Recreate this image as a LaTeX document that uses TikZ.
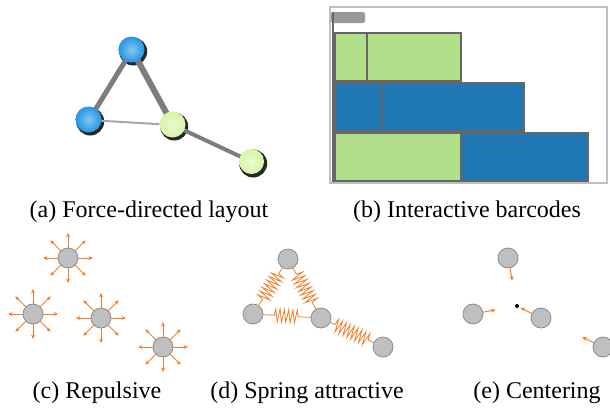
\documentclass[tikz,border=0pt]{standalone}
\usepackage{fontspec}
\setmainfont{Liberation Serif}
\usetikzlibrary{calc,shadings,decorations.pathmorphing,arrows.meta}
\definecolor{ballblue}{RGB}{35,150,225}
\definecolor{ballgreen}{RGB}{215,245,165}
\definecolor{barblue}{RGB}{31,120,180}
\definecolor{bargreen}{RGB}{178,223,138}
\definecolor{force}{RGB}{244,125,40}
\definecolor{edgegrey}{RGB}{125,125,125}
\tikzset{
    % Force-directed balls
    ball/.style={
        circle,
        minimum size=26pt,
        inner sep=0pt,
        shading=radial,
        inner color=#1!55!white,
        outer color=#1,
    },
    shade/.style={
        circle,
        fill=black!85,
        minimum size=28pt,
        inner sep=0pt,
    },
    % Barcode bars
    bar/.style={
        draw=black!60,
        line width=1.4pt,
    },
    % Simple particles
    particle/.style={
        circle,
        draw=black!45,
        fill=black!25,
        line width=0.8pt,
        minimum size=20pt,
        inner sep=0pt,
    },
    forcearrow/.style={
        force,
        line width=1pt,
        -{Stealth[length=4.5pt,width=4pt]},
    },
    spring/.style={
        force,
        line width=0.8pt,
        decorate,
        decoration={zigzag, segment length=4.3pt, amplitude=6.5pt,
            pre length=#1, post length=#1},
    },
    spring/.default=9pt,
    caption/.style={
        font=\fontsize{24}{28}\selectfont,
    },
}

\begin{document}
\begin{tikzpicture}[x=1pt,y=-1pt]
\useasboundingbox (0,0) rectangle (610,413);
%FORCE_BEGIN%
    % (a) Force-directed layout
    \foreach \name/\x/\y in {a1/132/50, a2/89/120, a3/173/125, a4/252/162}
        \node[shade] (\name-s) at (\x+1.2,\y+1.5) {};
    \draw[edgegrey, line width=5pt] (132,50) -- (89,120);
    \draw[edgegrey, line width=6pt] (132,50) -- (173,125);
    \draw[black!35, line width=2pt] (89,120) -- (173,125);
    \draw[edgegrey, line width=4pt] (173,125) -- (252,162);
    \node[ball=ballblue] (a1) at (131.5,49.5) {};
    \node[ball=ballblue] (a2) at (88.5,119.5) {};
    \node[ball=ballgreen] (a3) at (172.5,124.5) {};
    \node[ball=ballgreen, minimum size=25pt] (a4) at (251.5,161.5) {};
    \node[caption] (capA) at (149,212) {(a) Force-directed layout};
%FORCE_END%

%BARCODE_BEGIN%
    % (b) Interactive barcodes
    \draw[black!25, line width=1.6pt] (330,7) rectangle (607,183);
    \fill[black!40, rounded corners=2pt] (331,12) rectangle (365,23);
    \draw[black!60, line width=1.6pt] (333,12) -- (333,182);
    \filldraw[bar, fill=bargreen] (335,33) rectangle (461,81);
    \draw[bar] (367,33) -- (367,81);
    \filldraw[bar, fill=barblue] (335,83) rectangle (524,131);
    \draw[bar] (382,83) -- (382,131);
    \filldraw[bar, fill=bargreen] (335,133) rectangle (461,181);
    \filldraw[bar, fill=barblue] (461,133) rectangle (588,181);
    \node[caption] (capB) at (467,212) {(b) Interactive barcodes};
%BARCODE_END%

%REPULSIVE_BEGIN%
    % (c) Repulsive
    \foreach \name/\x/\y in {c1/68/258, c2/33/314, c3/101/318, c4/163/347}{
        \node[particle] (\name) at (\x,\y) {};
        \foreach \a in {0,45,...,315}
            \draw[forcearrow] (\name) -- ++(\a:25);
    }
    \node[caption] (capC) at (97,393) {(c) Repulsive};
%REPULSIVE_END%

%SPRING_BEGIN%
    % (d) Spring attractive
    \node[particle] (d1) at (288,259) {};
    \node[particle] (d2) at (253,314) {};
    \node[particle] (d3) at (321,318) {};
    \node[particle] (d4) at (383,347) {};
    \draw[spring=7pt] (d1) -- (d2);
    \draw[spring=7pt] (d1) -- (d3);
    \draw[spring=11pt] (d2) -- (d3);
    \draw[spring=5pt] (d3) -- (d4);
    \node[caption] (capD) at (307,393) {(d) Spring attractive};
%SPRING_END%

%CENTER_BEGIN%
    % (e) Centering
    \fill (517,306) circle (2pt) coordinate (ctr);
    \foreach \name/\x/\y in {e1/508/258, e2/473/314, e3/541/318, e4/603/347}{
        \node[particle] (\name) at (\x,\y) {};
        \draw[forcearrow] (\name) -- ($(\name)!23pt!(ctr)$);
    }
    \node[caption] (capE) at (537,393) {(e) Centering};
%CENTER_END%
\end{tikzpicture}
\end{document}
